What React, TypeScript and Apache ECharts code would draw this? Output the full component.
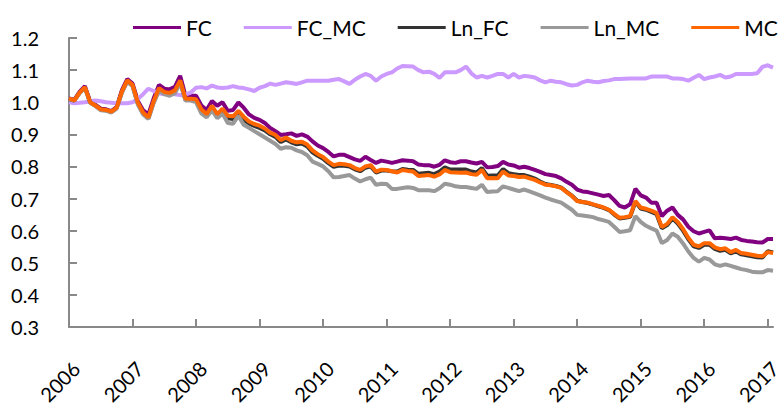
import React, { useEffect, useRef } from "react";
import * as echarts from "echarts";

const START_YEAR = 2006;
const MONTH_COUNT = 134;

const SERIES_NAMES = ["FC", "FC_MC", "Ln_FC", "Ln_MC", "MC"];
const SERIES_COLORS = ["#800080", "#CC99FF", "#333333", "#999999", "#FF6600"];

const FC = [
  1.012, 1.007, 1.032, 1.050, 1.002, 0.992, 0.980, 0.978, 0.972, 0.985, 1.038, 1.072,
  1.058, 1.004, 0.975, 0.962, 1.012, 1.054, 1.042, 1.040, 1.048, 1.082, 1.020, 1.020,
  1.020, 0.990, 0.976, 1.004, 0.989, 1.000, 0.973, 0.976, 0.999, 0.983, 0.962, 0.951,
  0.945, 0.935, 0.920, 0.910, 0.898, 0.900, 0.903, 0.895, 0.900, 0.893, 0.878, 0.865,
  0.857, 0.845, 0.831, 0.836, 0.836, 0.829, 0.822, 0.817, 0.830, 0.820, 0.811, 0.818,
  0.815, 0.811, 0.815, 0.819, 0.818, 0.816, 0.806, 0.804, 0.804, 0.799, 0.805, 0.819,
  0.813, 0.811, 0.816, 0.816, 0.812, 0.809, 0.814, 0.797, 0.798, 0.801, 0.814, 0.806,
  0.803, 0.796, 0.799, 0.795, 0.789, 0.783, 0.776, 0.773, 0.770, 0.763, 0.752, 0.743,
  0.728, 0.722, 0.720, 0.716, 0.712, 0.708, 0.711, 0.695, 0.677, 0.672, 0.682, 0.730,
  0.710, 0.703, 0.687, 0.687, 0.645, 0.662, 0.672, 0.649, 0.635, 0.612, 0.598, 0.591,
  0.596, 0.601, 0.576, 0.578, 0.576, 0.574, 0.578, 0.571, 0.568, 0.566, 0.564, 0.563,
  0.574, 0.574,
];

const FC_MC = [
  1.000, 0.997, 0.998, 1.000, 1.003, 1.005, 1.003, 1.000, 0.998, 0.996, 0.997, 0.997,
  1.000, 1.010, 1.025, 1.042, 1.035, 1.028, 1.025, 1.027, 1.025, 1.022, 1.024, 1.030,
  1.045, 1.047, 1.043, 1.052, 1.046, 1.044, 1.046, 1.050, 1.046, 1.044, 1.040, 1.035,
  1.045, 1.050, 1.058, 1.054, 1.058, 1.062, 1.060, 1.057, 1.062, 1.067, 1.067, 1.067,
  1.067, 1.067, 1.070, 1.072, 1.065, 1.057, 1.070, 1.080, 1.088, 1.082, 1.067, 1.080,
  1.088, 1.093, 1.105, 1.113, 1.112, 1.111, 1.100, 1.093, 1.095, 1.088, 1.076, 1.093,
  1.093, 1.093, 1.100, 1.111, 1.090, 1.077, 1.082, 1.077, 1.082, 1.088, 1.088, 1.077,
  1.088, 1.077, 1.082, 1.080, 1.077, 1.068, 1.062, 1.067, 1.064, 1.062, 1.056, 1.052,
  1.054, 1.062, 1.067, 1.064, 1.062, 1.066, 1.068, 1.072, 1.072, 1.073, 1.074, 1.074,
  1.074, 1.074, 1.080, 1.080, 1.080, 1.080, 1.074, 1.074, 1.072, 1.067, 1.076, 1.085,
  1.072, 1.077, 1.080, 1.085, 1.077, 1.080, 1.088, 1.088, 1.088, 1.088, 1.090, 1.110,
  1.115, 1.108,
];

const LN_FC = [
  1.010, 1.005, 1.029, 1.046, 0.999, 0.989, 0.977, 0.975, 0.970, 0.982, 1.032, 1.066,
  1.052, 0.996, 0.965, 0.950, 1.001, 1.040, 1.029, 1.025, 1.033, 1.065, 1.008, 1.008,
  1.005, 0.972, 0.958, 0.983, 0.957, 0.973, 0.950, 0.948, 0.967, 0.945, 0.934, 0.926,
  0.920, 0.912, 0.900, 0.892, 0.876, 0.884, 0.875, 0.869, 0.871, 0.862, 0.844, 0.833,
  0.824, 0.810, 0.799, 0.803, 0.802, 0.800, 0.791, 0.785, 0.796, 0.800, 0.781, 0.787,
  0.787, 0.785, 0.784, 0.792, 0.790, 0.789, 0.777, 0.779, 0.780, 0.776, 0.784, 0.797,
  0.790, 0.790, 0.790, 0.790, 0.784, 0.781, 0.795, 0.771, 0.772, 0.772, 0.792, 0.779,
  0.776, 0.773, 0.773, 0.768, 0.762, 0.753, 0.745, 0.742, 0.739, 0.734, 0.721, 0.709,
  0.693, 0.689, 0.686, 0.681, 0.676, 0.671, 0.664, 0.650, 0.638, 0.640, 0.643, 0.690,
  0.669, 0.665, 0.658, 0.651, 0.607, 0.617, 0.638, 0.622, 0.600, 0.573, 0.551, 0.546,
  0.556, 0.556, 0.543, 0.537, 0.540, 0.529, 0.535, 0.526, 0.523, 0.520, 0.517, 0.516,
  0.536, 0.532,
];

const LN_MC = [
  1.010, 1.005, 1.028, 1.045, 0.998, 0.988, 0.975, 0.973, 0.968, 0.980, 1.030, 1.064,
  1.050, 0.993, 0.962, 0.948, 0.998, 1.036, 1.025, 1.020, 1.028, 1.060, 1.005, 1.005,
  1.000, 0.965, 0.953, 0.975, 0.950, 0.965, 0.935, 0.933, 0.958, 0.930, 0.920, 0.910,
  0.900, 0.890, 0.880, 0.870, 0.855, 0.860, 0.858, 0.850, 0.845, 0.835, 0.815, 0.808,
  0.800, 0.785, 0.766, 0.767, 0.770, 0.773, 0.762, 0.753, 0.760, 0.765, 0.743, 0.746,
  0.745, 0.730, 0.730, 0.733, 0.735, 0.733, 0.726, 0.726, 0.726, 0.723, 0.732, 0.746,
  0.743, 0.738, 0.736, 0.736, 0.733, 0.730, 0.743, 0.720, 0.722, 0.723, 0.738, 0.733,
  0.728, 0.723, 0.728, 0.722, 0.716, 0.710, 0.703, 0.697, 0.692, 0.687, 0.676, 0.665,
  0.649, 0.647, 0.645, 0.642, 0.636, 0.632, 0.627, 0.612, 0.596, 0.598, 0.601, 0.645,
  0.627, 0.615, 0.607, 0.600, 0.561, 0.571, 0.591, 0.581, 0.560, 0.535, 0.515, 0.503,
  0.515, 0.510, 0.495, 0.490, 0.495, 0.490, 0.485, 0.480, 0.477, 0.472, 0.470, 0.470,
  0.477, 0.475,
];

const MC = [
  1.011, 1.006, 1.030, 1.047, 1.000, 0.990, 0.978, 0.976, 0.971, 0.983, 1.034, 1.068,
  1.054, 0.999, 0.968, 0.953, 1.004, 1.044, 1.032, 1.029, 1.037, 1.068, 1.011, 1.011,
  1.009, 0.978, 0.963, 0.989, 0.963, 0.980, 0.958, 0.956, 0.973, 0.955, 0.940, 0.932,
  0.927, 0.918, 0.905, 0.898, 0.882, 0.890, 0.880, 0.875, 0.877, 0.868, 0.850, 0.838,
  0.829, 0.815, 0.804, 0.808, 0.807, 0.804, 0.795, 0.789, 0.800, 0.804, 0.784, 0.790,
  0.789, 0.785, 0.781, 0.789, 0.786, 0.784, 0.770, 0.772, 0.773, 0.768, 0.775, 0.789,
  0.782, 0.781, 0.780, 0.781, 0.776, 0.774, 0.789, 0.763, 0.764, 0.763, 0.784, 0.772,
  0.770, 0.767, 0.768, 0.763, 0.758, 0.750, 0.743, 0.741, 0.738, 0.733, 0.720, 0.708,
  0.692, 0.689, 0.687, 0.682, 0.677, 0.672, 0.665, 0.652, 0.640, 0.642, 0.645, 0.692,
  0.672, 0.668, 0.662, 0.655, 0.611, 0.621, 0.642, 0.627, 0.605, 0.578, 0.556, 0.551,
  0.561, 0.561, 0.548, 0.542, 0.545, 0.533, 0.540, 0.530, 0.528, 0.525, 0.522, 0.520,
  0.533, 0.530,
];

const SERIES_DATA = [FC, FC_MC, LN_FC, LN_MC, MC];

const Y_MIN = 0.3;
const Y_MAX = 1.2;
const Y_STEP = 0.1;

const CATEGORIES = Array.from({ length: MONTH_COUNT }, (_, i) => {
  const y = START_YEAR + Math.floor(i / 12);
  const m = (i % 12) + 1;
  return `${y}-${m < 10 ? "0" + m : m}`;
});

const FONT = "Lato, 'Open Sans', 'Noto Sans', sans-serif";
const AXIS_COLOR = "#898989";

export default function App() {
  const ref = useRef<HTMLDivElement>(null);

  useEffect(() => {
    document.body.style.margin = "0";
    const chart = echarts.init(ref.current as HTMLDivElement, null, { renderer: "svg" });
    chart.setOption({
      animation: false,
      backgroundColor: "#ffffff",
      textStyle: { fontFamily: FONT },
      legend: {
        left: 128,
        top: 12,
        icon: "rect",
        itemWidth: 48,
        itemHeight: 3,
        itemGap: 32,
        data: SERIES_NAMES,
        textStyle: { fontSize: 21, color: "#000", fontFamily: FONT },
      },
      grid: { left: 69, right: 1, top: 38, bottom: 73, containLabel: false },
      xAxis: {
        type: "category",
        boundaryGap: false,
        data: CATEGORIES,
        axisLine: { show: true, lineStyle: { color: AXIS_COLOR, width: 2 } },
        axisTick: {
          show: true,
          inside: true,
          length: 8,
          interval: 11,
          lineStyle: { color: AXIS_COLOR, width: 2 },
        },
        axisLabel: {
          interval: 11,
          rotate: 45,
          margin: 31,
          verticalAlign: "top",
          fontSize: 20,
          color: "#000",
          fontFamily: FONT,
          formatter: (v: string) => v.slice(0, 4),
        },
        splitLine: { show: false },
      },
      yAxis: {
        type: "value",
        min: Y_MIN,
        max: Y_MAX,
        interval: Y_STEP,
        axisLine: { show: true, lineStyle: { color: AXIS_COLOR, width: 2 } },
        axisTick: { show: true, inside: true, length: 8, lineStyle: { color: AXIS_COLOR, width: 2 } },
        axisLabel: {
          margin: 30,
          fontSize: 20,
          color: "#000",
          fontFamily: FONT,
          formatter: (v: number) => v.toFixed(1),
        },
        splitLine: { show: false },
      },
      series: SERIES_NAMES.map((name, k) => ({
        name,
        type: "line",
        data: SERIES_DATA[k],
        symbol: "none",
        showSymbol: false,
        color: SERIES_COLORS[k],
        lineStyle: { width: 4, color: SERIES_COLORS[k] },
      })),
    });
    return () => chart.dispose();
  }, []);

  return <div ref={ref} style={{ width: 784, height: 407 }} />;
}
